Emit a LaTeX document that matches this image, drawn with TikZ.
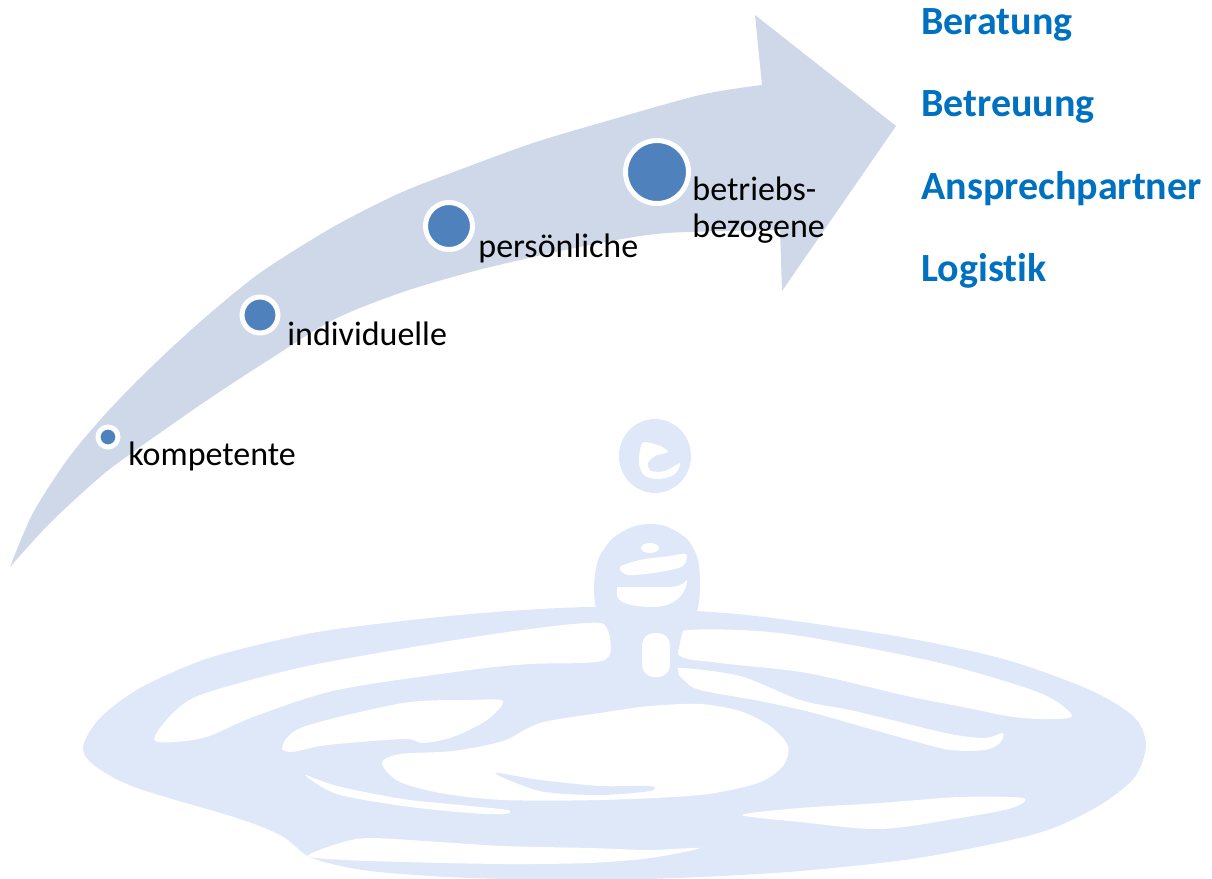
\documentclass[tikz,border=0pt]{standalone}
\usepackage{fontspec}
\setmainfont{Carlito}[Ligatures=NoCommon]
\definecolor{arrowgray}{HTML}{CFD8E8}
\definecolor{waterblue}{HTML}{DFE8F9}
\definecolor{dotblue}{HTML}{4F81BD}
\definecolor{headblue}{HTML}{0070C0}
\begin{document}
\begin{tikzpicture}[x=.5pt,y=-.5pt,
  dot/.style={circle,fill=dotblue,draw=white,line width=2.5pt,inner sep=0pt},
  lab/.style={anchor=base west,inner sep=0pt,font=\fontsize{17}{20}\selectfont},
  item/.style={anchor=base west,inner sep=0pt,text=headblue,font=\fontsize{20}{24}\selectfont\bfseries}]
\useasboundingbox (0,0) rectangle (1212,879);
% water splash in the background
\fill[waterblue] plot[smooth cycle] coordinates {(83,747) (100,718) (140,688) (203,660) (270,642) (337,629) (470,614) (590,607) (696,611) (773,618) (907,638) (1007,660) (1090,690) (1134,717) (1146,745) (1134,778) (1095,808) (1035,834) (918,858) (800,871) (700,877) (600,880) (470,878) (370,871) (312,858) (282,836) (237,818) (137,788) (95,766)};
\fill[white] plot[smooth cycle] coordinates {(308,856) (340,843) (370,838) (440,842) (503,846) (590,848) (650,850) (700,848) (650,858) (590,863) (503,864) (403,862) (345,860)};
\fill[white] plot[smooth cycle] coordinates {(155,741) (172,714) (203,694) (303,667) (437,643) (530,629) (600,623) (611,640) (602,661) (530,664) (470,670) (337,690) (253,717) (203,738)};
\fill[white] plot[smooth cycle] coordinates {(678,632) (740,630) (807,637) (940,663) (1040,693) (1072,716) (1040,719) (1007,716) (973,709) (907,696) (807,673) (720,663) (680,656)};
\fill[white] plot[smooth cycle] coordinates {(282,747) (303,727) (403,703) (470,700) (503,701) (487,720) (453,737) (423,743) (407,739) (360,742) (320,746) (292,752)};
\fill[white] plot[smooth cycle] coordinates {(382,763) (400,754) (453,751) (503,741) (540,723) (600,713) (650,706) (700,704) (740,711) (770,726) (788,746) (783,766) (758,783) (700,795) (600,800) (503,800) (440,793) (398,781)};
\fill[waterblue] plot[smooth cycle] coordinates {(495,773) (540,780) (600,786) (650,786) (650,791) (600,795) (540,791)};
\fill[white] plot[smooth cycle] coordinates {(305,775) (337,786) (403,799) (470,806) (508,810) (505,814) (470,813) (403,806) (337,794)};
\fill[white] plot[smooth cycle] coordinates {(742,815) (800,808) (880,803) (960,797) (1023,798) (1012,808) (960,818) (880,829) (800,822)};
\fill[white] plot[smooth cycle] coordinates {(677,668) (740,676) (800,700) (850,710) (900,722) (950,734) (985,738) (1003,733) (1000,743) (985,750) (950,750) (910,740) (860,726) (810,712) (760,701) (700,690) (684,680)};
% rising column and drop
\fill[waterblue] plot[smooth cycle] coordinates {(603,700) (611,667) (609,633) (597,613) (594,587) (598,560) (612,539) (632,527) (650,524) (668,527) (688,540) (698,560) (700,587) (697,611) (684,628) (677,660) (676,700)};
\fill[white,rounded corners=6] (642,677) rectangle (670,633);
\fill[white] (650,548) ellipse (9 and 5);
\fill[white] plot[smooth cycle] coordinates {(620,567) (640,560) (670,556) (686,554) (683,566) (660,572) (628,575)};
\fill[white] (617,587) -- (670,587) .. controls (680,586) .. (687,580) .. controls (686,598) and (670,607) .. (653,607) .. controls (630,607) and (617,602) .. (617,595) -- cycle;
\fill[waterblue] (655,456) ellipse (36 and 37);
\fill[white] plot[smooth cycle] coordinates {(644,442) (660,446) (668,452) (655,456) (648,463) (651,471) (665,471) (680,463) (675,474) (660,479) (645,476) (639,464) (640,450)};
% curved arrow
\fill[arrowgray] plot[smooth] coordinates {(10,567) (33,513) (67,460) (100,420) (133,385) (167,352) (200,322) (233,294) (267,268) (333,227) (400,193) (467,167) (533,143) (600,123) (700,95) (762,85)} -- (755,15) -- (896,126) -- (782,291) -- (780,230) -- plot[smooth] coordinates {(780,230) (667,233) (600,243) (533,257) (467,273) (400,293) (333,320) (267,361) (233,383) (200,405) (167,428) (133,452) (100,477) (50,523) (10,567)} -- cycle;
% steps on the arrow
\node[dot,minimum size=10pt] (p1) at (108,437) {};
\node[dot,minimum size=18pt] (p2) at (260,315) {};
\node[dot,minimum size=23.5pt] (p3) at (449,226) {};
\node[dot,minimum size=31.5pt] (p4) at (657,172) {};
\node[lab] (l1) at (128,465) {kompetente};
\node[lab] (l2) at (287,345) {individuelle};
\node[lab] (l3) at (478,257) {persönliche};
\node[lab] (l4) at (692,200) {betriebs-};
\node[lab] (l4b) at (692,237) {bezogene};
% services
\node[item] (s1) at (921,34) {Beratung};
\node[item] (s2) at (921,116) {Betreuung};
\node[item] (s3) at (921,199) {Ansprechpartner};
\node[item] (s4) at (921,281) {Logistik};
\end{tikzpicture}
\end{document}
